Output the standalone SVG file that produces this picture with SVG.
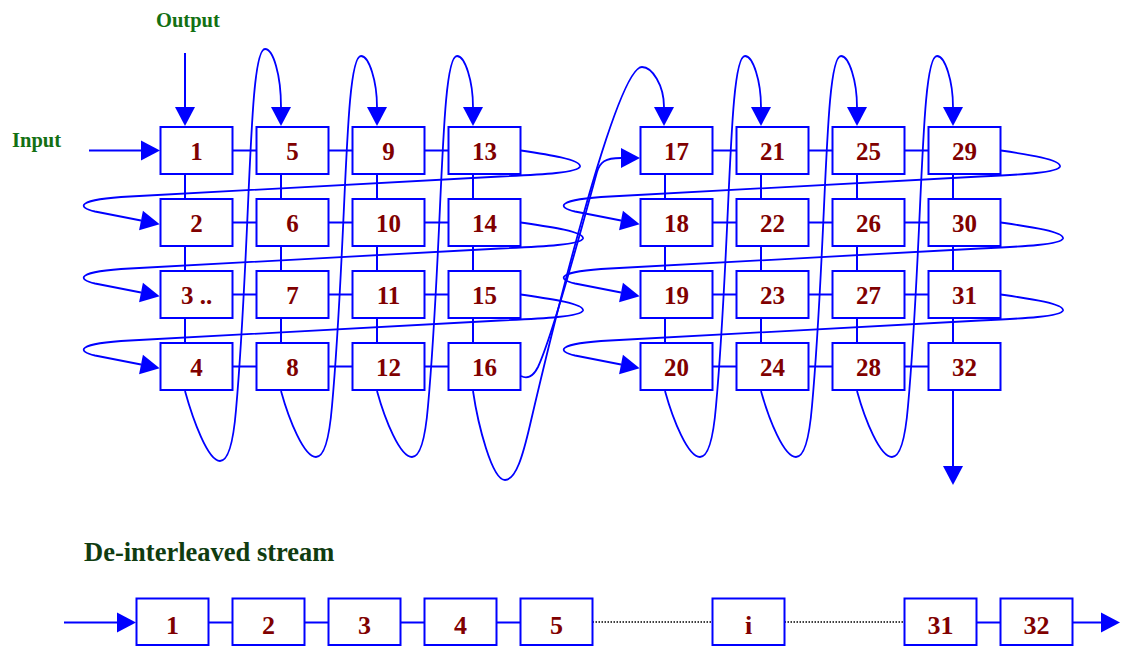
<svg xmlns="http://www.w3.org/2000/svg" width="1123" height="647" viewBox="0 0 1123 647">
  <style>
    .box { fill: #ffffff; stroke: #0000ff; stroke-width: 2; }
    .num { font-family: "Liberation Serif", "Times New Roman", serif; font-weight: bold; font-size: 25px; fill: #800000; text-anchor: middle; }
    .snum { font-size: 26px; }
    .lbl { font-family: "Liberation Serif", "Times New Roman", serif; font-weight: bold; font-size: 20.5px; fill: #137013; }
    .title { font-family: "Liberation Serif", "Times New Roman", serif; font-weight: bold; font-size: 26.5px; fill: #103c10; }
    .wire { fill: none; stroke: #0000ff; stroke-width: 2; }
    .curve { fill: none; stroke: #0000ff; stroke-width: 1.8; }
    .arr { marker-end: url(#ah); }
    .dots { fill: none; stroke: #000000; stroke-width: 1.4; stroke-dasharray: 1.5 1.5; }
  </style>
  <defs>
    <marker id="ah" markerUnits="userSpaceOnUse" markerWidth="20" markerHeight="20" refX="0" refY="10" orient="auto" overflow="visible">
      <path d="M0,0 L19,10 L0,20 z" fill="#0000ff"/>
    </marker>
  </defs>

  <rect width="1123" height="647" fill="#ffffff"/>

  <!-- labels -->
  <text class="lbl" x="156" y="27">Output</text>
  <text class="lbl" x="12" y="147">Input</text>
  <text class="title" x="84" y="561">De-interleaved stream</text>

  <g id="connectors">
    <!-- input / output arrows -->
    <path class="wire arr" d="M185,53 L185,107"/>
    <path class="wire arr" d="M89,150.5 L141,150.5"/>
    <path class="wire arr" d="M953,391 L953,466"/>

    <!-- grid links: horizontal -->
    <path class="wire" d="M232.5,150.5 H256.5 M328.5,150.5 H352.5 M424.5,150.5 H448.5
      M232.5,222.5 H256.5 M328.5,222.5 H352.5 M424.5,222.5 H448.5
      M232.5,294.5 H256.5 M328.5,294.5 H352.5 M424.5,294.5 H448.5
      M232.5,366.5 H256.5 M328.5,366.5 H352.5 M424.5,366.5 H448.5
      M712.5,150.5 H736.5 M808.5,150.5 H832.5 M904.5,150.5 H928.5
      M712.5,222.5 H736.5 M808.5,222.5 H832.5 M904.5,222.5 H928.5
      M712.5,294.5 H736.5 M808.5,294.5 H832.5 M904.5,294.5 H928.5
      M712.5,366.5 H736.5 M808.5,366.5 H832.5 M904.5,366.5 H928.5"/>
    <!-- grid links: vertical -->
    <path class="wire" d="M185,174 V199 M185,246 V271 M185,318 V343
      M281,174 V199 M281,246 V271 M281,318 V343
      M377,174 V199 M377,246 V271 M377,318 V343
      M473,174 V199 M473,246 V271 M473,318 V343
      M665,174 V199 M665,246 V271 M665,318 V343
      M761,174 V199 M761,246 V271 M761,318 V343
      M857,174 V199 M857,246 V271 M857,318 V343
      M953,174 V199 M953,246 V271 M953,318 V343"/>

    <!-- column loops: bottom of one column to top of the next -->
    <path class="curve arr" d="M185,391 C193,420 208,461 220,461 C229,461 233.5,440 236,410 C251,240 248,49 265,49 C273,49 281,74 281,107"/>
    <path class="curve arr" d="M281,391 C289,420 304,457 316,457 C325,457 329.5,436 332,406 C347,240 344,56 361,56 C369,56 377,81 377,107"/>
    <path class="curve arr" d="M377,391 C385,420 400,457 412,457 C421,457 425.5,436 428,406 C443,240 440,56 457,56 C465,56 473,81 473,107"/>
    <path class="curve arr" d="M473,391 C478,425 492,480 505,480 C516,480 523,455 530,425 C547,352 615,67 642,67 C652,67 664,85 664,107"/>
    <path class="curve arr" d="M665,391 C673,420 688,457 700,457 C709,457 713.5,436 716,406 C731,240 728,56 745,56 C753,56 761,81 761,107"/>
    <path class="curve arr" d="M761,391 C769,420 784,457 796,457 C805,457 809.5,436 812,406 C827,240 824,56 841,56 C849,56 857,81 857,107"/>
    <path class="curve arr" d="M857,391 C865,420 880,457 892,457 C901,457 905.5,436 908,406 C923,240 920,56 937,56 C945,56 953,81 953,107"/>

    <!-- row loops: end of one row to start of the next -->
    <path class="curve arr" d="M521,150.5 C548,154.5 581,159.5 580,166.5 C578,172.5 545,174.5 500,176.5 L130,196.5 C75,199.5 77,207.5 95,211.5 L141,220.5"/>
    <path class="curve arr" d="M521,222.5 C548,226.5 584,231.5 583,238.5 C581,244.5 545,246.5 500,248.5 L130,268.5 C75,271.5 77,279.5 95,283.5 L141,292.5"/>
    <path class="curve arr" d="M521,294.5 C548,298.5 584,303.5 583,310.5 C581,316.5 545,318.5 500,320.5 L130,340.5 C75,343.5 77,351.5 95,355.5 L141,364.5"/>
    <path class="curve arr" d="M521,376 C527,379 533,377 538,367 C555,330 585,215 597,172 C600,162 605,158 621,158"/>
    <path class="curve arr" d="M1001,150.5 C1028,154.5 1061,159.5 1060,166.5 C1058,172.5 1025,174.5 980,176.5 L610,196.5 C555,199.5 557,207.5 575,211.5 L621,220.5"/>
    <path class="curve arr" d="M1001,222.5 C1028,226.5 1064,231.5 1063,238.5 C1061,244.5 1025,246.5 980,248.5 L610,268.5 C555,271.5 557,279.5 575,283.5 L621,292.5"/>
    <path class="curve arr" d="M1001,294.5 C1028,298.5 1064,303.5 1063,310.5 C1061,316.5 1025,318.5 980,320.5 L610,340.5 C555,343.5 557,351.5 575,355.5 L621,364.5"/>

    <!-- de-interleaved stream links -->
    <path class="wire arr" d="M64,622.5 L117,622.5"/>
    <path class="wire" d="M208.5,622.5 H232.5 M304.5,622.5 H328.5 M400.5,622.5 H424.5 M496.5,622.5 H520.5 M976.5,622.5 H1000.5"/>
    <path class="dots" d="M592.5,622 H712.5 M784.5,622 H904.5"/>
    <path class="wire arr" d="M1072.5,622.5 L1101,622.5"/>
  </g>

  <!-- interleaver grid, left block -->
  <g id="n1"><rect class="box" x="160.5" y="127" width="72" height="47"/><text class="num" x="196.5" y="159.5">1</text></g>
  <g id="n2"><rect class="box" x="160.5" y="199" width="72" height="47"/><text class="num" x="196.5" y="231.5">2</text></g>
  <g id="n3"><rect class="box" x="160.5" y="271" width="72" height="47"/><text class="num" x="196.5" y="303.5">3 ..</text></g>
  <g id="n4"><rect class="box" x="160.5" y="343" width="72" height="47"/><text class="num" x="196.5" y="375.5">4</text></g>
  <g id="n5"><rect class="box" x="256.5" y="127" width="72" height="47"/><text class="num" x="292.5" y="159.5">5</text></g>
  <g id="n6"><rect class="box" x="256.5" y="199" width="72" height="47"/><text class="num" x="292.5" y="231.5">6</text></g>
  <g id="n7"><rect class="box" x="256.5" y="271" width="72" height="47"/><text class="num" x="292.5" y="303.5">7</text></g>
  <g id="n8"><rect class="box" x="256.5" y="343" width="72" height="47"/><text class="num" x="292.5" y="375.5">8</text></g>
  <g id="n9"><rect class="box" x="352.5" y="127" width="72" height="47"/><text class="num" x="388.5" y="159.5">9</text></g>
  <g id="n10"><rect class="box" x="352.5" y="199" width="72" height="47"/><text class="num" x="388.5" y="231.5">10</text></g>
  <g id="n11"><rect class="box" x="352.5" y="271" width="72" height="47"/><text class="num" x="388.5" y="303.5">11</text></g>
  <g id="n12"><rect class="box" x="352.5" y="343" width="72" height="47"/><text class="num" x="388.5" y="375.5">12</text></g>
  <g id="n13"><rect class="box" x="448.5" y="127" width="72" height="47"/><text class="num" x="484.5" y="159.5">13</text></g>
  <g id="n14"><rect class="box" x="448.5" y="199" width="72" height="47"/><text class="num" x="484.5" y="231.5">14</text></g>
  <g id="n15"><rect class="box" x="448.5" y="271" width="72" height="47"/><text class="num" x="484.5" y="303.5">15</text></g>
  <g id="n16"><rect class="box" x="448.5" y="343" width="72" height="47"/><text class="num" x="484.5" y="375.5">16</text></g>

  <!-- interleaver grid, right block -->
  <g id="n17"><rect class="box" x="640.5" y="127" width="72" height="47"/><text class="num" x="676.5" y="159.5">17</text></g>
  <g id="n18"><rect class="box" x="640.5" y="199" width="72" height="47"/><text class="num" x="676.5" y="231.5">18</text></g>
  <g id="n19"><rect class="box" x="640.5" y="271" width="72" height="47"/><text class="num" x="676.5" y="303.5">19</text></g>
  <g id="n20"><rect class="box" x="640.5" y="343" width="72" height="47"/><text class="num" x="676.5" y="375.5">20</text></g>
  <g id="n21"><rect class="box" x="736.5" y="127" width="72" height="47"/><text class="num" x="772.5" y="159.5">21</text></g>
  <g id="n22"><rect class="box" x="736.5" y="199" width="72" height="47"/><text class="num" x="772.5" y="231.5">22</text></g>
  <g id="n23"><rect class="box" x="736.5" y="271" width="72" height="47"/><text class="num" x="772.5" y="303.5">23</text></g>
  <g id="n24"><rect class="box" x="736.5" y="343" width="72" height="47"/><text class="num" x="772.5" y="375.5">24</text></g>
  <g id="n25"><rect class="box" x="832.5" y="127" width="72" height="47"/><text class="num" x="868.5" y="159.5">25</text></g>
  <g id="n26"><rect class="box" x="832.5" y="199" width="72" height="47"/><text class="num" x="868.5" y="231.5">26</text></g>
  <g id="n27"><rect class="box" x="832.5" y="271" width="72" height="47"/><text class="num" x="868.5" y="303.5">27</text></g>
  <g id="n28"><rect class="box" x="832.5" y="343" width="72" height="47"/><text class="num" x="868.5" y="375.5">28</text></g>
  <g id="n29"><rect class="box" x="928.5" y="127" width="72" height="47"/><text class="num" x="964.5" y="159.5">29</text></g>
  <g id="n30"><rect class="box" x="928.5" y="199" width="72" height="47"/><text class="num" x="964.5" y="231.5">30</text></g>
  <g id="n31"><rect class="box" x="928.5" y="271" width="72" height="47"/><text class="num" x="964.5" y="303.5">31</text></g>
  <g id="n32"><rect class="box" x="928.5" y="343" width="72" height="47"/><text class="num" x="964.5" y="375.5">32</text></g>

  <!-- de-interleaved stream -->
  <g id="s1"><rect class="box" x="136.5" y="598.5" width="72" height="46.5"/><text class="num snum" x="172.5" y="634">1</text></g>
  <g id="s2"><rect class="box" x="232.5" y="598.5" width="72" height="46.5"/><text class="num snum" x="268.5" y="634">2</text></g>
  <g id="s3"><rect class="box" x="328.5" y="598.5" width="72" height="46.5"/><text class="num snum" x="364.5" y="634">3</text></g>
  <g id="s4"><rect class="box" x="424.5" y="598.5" width="72" height="46.5"/><text class="num snum" x="460.5" y="634">4</text></g>
  <g id="s5"><rect class="box" x="520.5" y="598.5" width="72" height="46.5"/><text class="num snum" x="556.5" y="634">5</text></g>
  <g id="si"><rect class="box" x="712.5" y="598.5" width="72" height="46.5"/><text class="num snum" x="748.5" y="634">i</text></g>
  <g id="s31"><rect class="box" x="904.5" y="598.5" width="72" height="46.5"/><text class="num snum" x="940.5" y="634">31</text></g>
  <g id="s32"><rect class="box" x="1000.5" y="598.5" width="72" height="46.5"/><text class="num snum" x="1036.5" y="634">32</text></g>
</svg>
